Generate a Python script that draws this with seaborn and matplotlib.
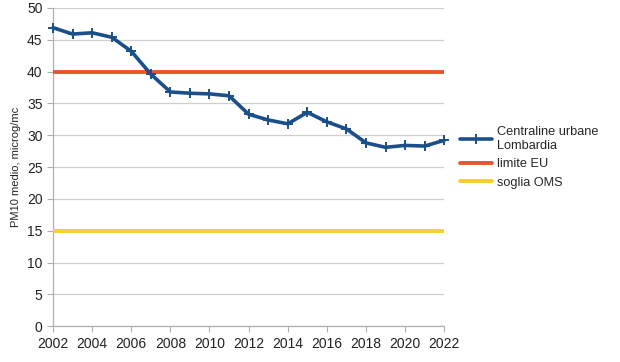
import matplotlib
matplotlib.use("Agg")
import matplotlib.pyplot as plt
import seaborn as sns
import pandas as pd

# values
years = list(range(2002, 2023))
pm10 = [46.9, 45.9, 46.1, 45.4, 43.2, 39.6, 36.8, 36.6, 36.5, 36.2, 33.3,
        32.4, 31.8, 33.6, 32.1, 31.0, 28.8, 28.1, 28.4, 28.3, 29.2]
limite_eu = [40] * len(years)
soglia_oms = [15] * len(years)

series_names = ["Centraline urbane\nLombardia", "limite EU", "soglia OMS"]
colors = ["#1b4f8a", "#e8552a", "#f7cf2e"]

df = pd.DataFrame({"anno": years, series_names[0]: pm10,
                   series_names[1]: limite_eu, series_names[2]: soglia_oms})

sns.set_style("white")
plt.rcParams["font.family"] = ["Liberation Sans", "DejaVu Sans"]

fig = plt.figure(figsize=(6.2, 3.62), dpi=100)
ax = fig.add_axes([0.0855, 0.099, 0.631, 0.879])

ax.yaxis.grid(True, color="#cfcfcf", linewidth=0.9)
ax.set_axisbelow(True)

sns.lineplot(data=df, x="anno", y=series_names[0], ax=ax, color=colors[0],
             linewidth=2.6, marker="+", markersize=7, markeredgewidth=1.4,
             markeredgecolor=colors[0], label=series_names[0], zorder=4,
             clip_on=False)
sns.lineplot(data=df, x="anno", y=series_names[1], ax=ax, color=colors[1],
             linewidth=2.8, label=series_names[1], zorder=3)
sns.lineplot(data=df, x="anno", y=series_names[2], ax=ax, color=colors[2],
             linewidth=2.8, label=series_names[2], zorder=3)

ax.set_xlim(2002, 2022)
ax.set_ylim(0, 50)
ax.set_xticks(range(2002, 2023, 2))
ax.set_yticks(range(0, 51, 5))
ax.tick_params(axis="both", labelsize=10, colors="#b0b0b0", labelcolor="#222222",
               length=4, width=0.8, direction="out", bottom=True, left=True)
ax.set_xlabel("")
ax.set_ylabel("PM10 medio, microg/mc", fontsize=8, color="#222222")

for side in ["top", "right"]:
    ax.spines[side].set_visible(False)
for side in ["left", "bottom"]:
    ax.spines[side].set_color("#b0b0b0")
    ax.spines[side].set_linewidth(0.9)

ax.legend(loc="center left", bbox_to_anchor=(1.012, 0.53), frameon=False,
          fontsize=9.2, handlelength=2.5, labelspacing=0.5, handletextpad=0.4)

fig.savefig("out.png", dpi=100)
